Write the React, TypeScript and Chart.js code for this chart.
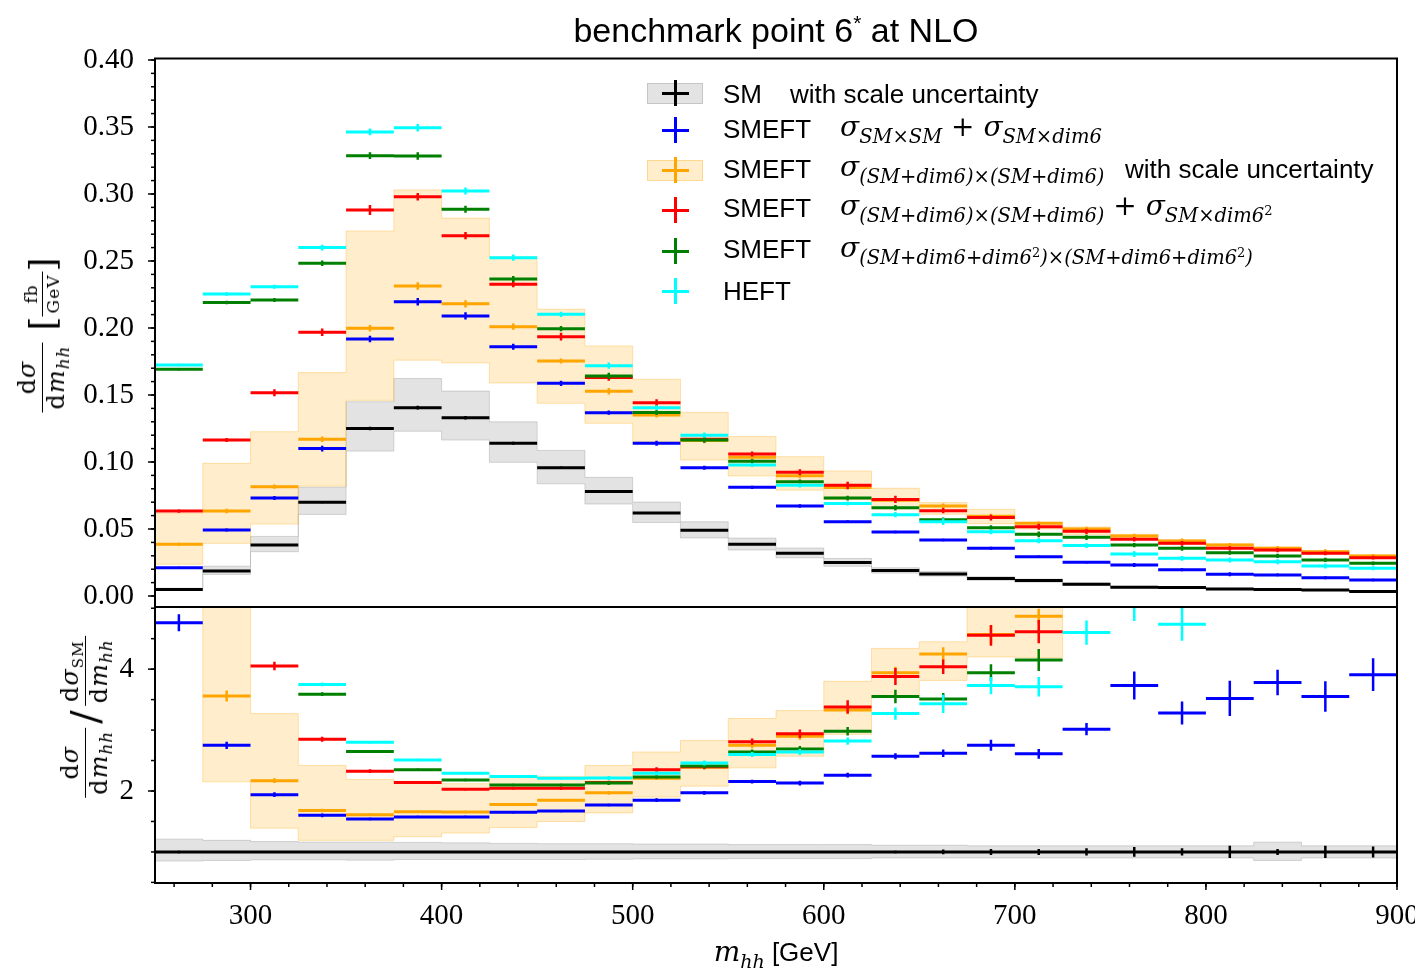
import React, { useEffect, useRef } from 'react';
import { Chart, registerables } from 'chart.js';
Chart.register(...registerables);

// ---------- bins ----------
const binEdges = [250, 275, 300, 325, 350, 375, 400, 425, 450, 475, 500, 525, 550, 575, 600, 625, 650, 675, 700, 725, 750, 775, 800, 825, 850, 875, 900];

// ---------- upper panel: dσ/dm_hh [fb/GeV] ----------
const smTop = [0.0048, 0.0187, 0.038, 0.070, 0.125, 0.1405, 0.133, 0.114, 0.0957, 0.078, 0.062, 0.049, 0.0386, 0.032, 0.025, 0.019, 0.0165, 0.013, 0.0115, 0.0088, 0.0066, 0.0063, 0.0052, 0.0048, 0.0045, 0.0034];
const blueTop = [0.0211, 0.0493, 0.0731, 0.110, 0.1918, 0.2196, 0.209, 0.186, 0.1587, 0.1368, 0.114, 0.0957, 0.0811, 0.0672, 0.0555, 0.0478, 0.0418, 0.0356, 0.0293, 0.0251, 0.0231, 0.0196, 0.0162, 0.0157, 0.0137, 0.0119];
const orangeTop = [0.0386, 0.0634, 0.0816, 0.117, 0.1998, 0.2313, 0.218, 0.201, 0.1754, 0.1528, 0.135, 0.116, 0.1035, 0.0898, 0.081, 0.0715, 0.0672, 0.0595, 0.0543, 0.050, 0.0448, 0.041, 0.038, 0.0356, 0.0331, 0.0299];
const orangeTopLo = [0.0237, 0.0393, 0.0537, 0.082, 0.146, 0.176, 0.174, 0.159, 0.1438, 0.1289, 0.115, 0.1015, 0.0896, 0.079, 0.072, 0.065, 0.061, 0.054, 0.050, 0.046, 0.042, 0.0385, 0.0357, 0.0335, 0.0312, 0.0282];
const orangeTopHi = [0.0617, 0.099, 0.1226, 0.1667, 0.2724, 0.303, 0.282, 0.253, 0.214, 0.1866, 0.1617, 0.137, 0.119, 0.104, 0.0933, 0.0804, 0.0697, 0.0647, 0.055, 0.0515, 0.046, 0.042, 0.039, 0.0365, 0.034, 0.0307];
const redTop = [0.0634, 0.1164, 0.1517, 0.1968, 0.288, 0.298, 0.2689, 0.2326, 0.1935, 0.163, 0.1443, 0.117, 0.106, 0.0923, 0.0826, 0.0721, 0.0637, 0.0585, 0.0517, 0.0483, 0.0423, 0.0393, 0.0356, 0.0343, 0.0319, 0.0286];
const greenTop = [0.1692, 0.2191, 0.2209, 0.2483, 0.3286, 0.3284, 0.2886, 0.2366, 0.1995, 0.1642, 0.137, 0.1164, 0.1005, 0.0853, 0.0731, 0.0659, 0.057, 0.051, 0.046, 0.0438, 0.038, 0.0356, 0.0323, 0.0299, 0.0269, 0.0244];
const cyanTop = [0.1724, 0.2254, 0.2308, 0.260, 0.3463, 0.3495, 0.3022, 0.2525, 0.2102, 0.1719, 0.1405, 0.120, 0.0978, 0.0826, 0.069, 0.0607, 0.0555, 0.048, 0.0413, 0.0376, 0.0313, 0.0281, 0.0269, 0.0256, 0.0224, 0.0207];

// ---------- lower panel: ratio to SM ----------
const smRatioLo = [0.85, 0.86, 0.87, 0.87, 0.865, 0.875, 0.875, 0.875, 0.875, 0.88, 0.885, 0.885, 0.89, 0.89, 0.89, 0.9, 0.9, 0.9, 0.9, 0.9, 0.9, 0.9, 0.9, 0.86, 0.9, 0.9];
const smRatioHi = [1.21, 1.19, 1.17, 1.16, 1.16, 1.155, 1.15, 1.14, 1.135, 1.135, 1.13, 1.13, 1.12, 1.12, 1.12, 1.11, 1.11, 1.1, 1.1, 1.1, 1.1, 1.1, 1.1, 1.16, 1.1, 1.1];
const smRatio = [1, 1, 1, 1, 1, 1, 1, 1, 1, 1, 1, 1, 1, 1, 1, 1, 1, 1, 1, 1, 1, 1, 1, 1, 1, 1];
const blueRatio = [4.76, 2.75, 1.94, 1.60, 1.54, 1.575, 1.575, 1.65, 1.67, 1.77, 1.85, 1.97, 2.155, 2.13, 2.26, 2.57, 2.62, 2.75, 2.61, 3.015, 3.73, 3.28, 3.52, 3.78, 3.55, 3.91];
const orangeRatio = [8.0, 3.56, 2.17, 1.68, 1.61, 1.66, 1.655, 1.78, 1.85, 1.97, 2.21, 2.39, 2.75, 2.90, 3.33, 3.94, 4.25, 4.57, 4.87, 5.6, 6.8, 6.5, 7.3, 7.4, 7.4, 8.8];
const orangeRatioLo = [5.3, 2.15, 1.39, 1.19, 1.19, 1.25, 1.31, 1.40, 1.50, 1.64, 1.90, 2.08, 2.38, 2.57, 2.93, 3.56, 3.815, 4.20, 4.19, 5.3, 5.8, 5.9, 6.2, 6.4, 6.5, 7.0];
const orangeRatioHi = [13, 6.0, 3.27, 2.42, 2.19, 2.16, 2.12, 2.22, 2.24, 2.42, 2.64, 2.83, 3.19, 3.32, 3.80, 4.34, 4.45, 5.4, 5.5, 6.0, 6.5, 6.6, 6.9, 7.1, 7.2, 7.8];
const redRatio = [13.2, 6.2, 4.05, 2.85, 2.325, 2.14, 2.03, 2.045, 2.045, 2.14, 2.35, 2.40, 2.81, 2.94, 3.38, 3.88, 4.04, 4.555, 4.615, 5.6, 6.4, 6.2, 6.8, 7.1, 7.1, 8.4];
const greenRatio = [35, 11.7, 5.8, 3.59, 2.65, 2.35, 2.18, 2.10, 2.10, 2.13, 2.23, 2.41, 2.64, 2.69, 2.98, 3.55, 3.51, 3.94, 4.15, 5.5, 5.8, 5.7, 6.2, 6.3, 6.0, 7.2];
const cyanRatio = [36, 12.0, 6.1, 3.75, 2.80, 2.51, 2.29, 2.24, 2.21, 2.215, 2.29, 2.46, 2.60, 2.64, 2.82, 3.27, 3.43, 3.73, 3.71, 4.60, 5.12, 4.735, 5.6, 5.8, 5.6, 6.4];

// statistical errors (ratio units)
const smErrR = [0.02, 0.01, 0.01, 0.01, 0.01, 0.01, 0.01, 0.01, 0.01, 0.01, 0.01, 0.01, 0.01, 0.01, 0.01, 0.02, 0.04, 0.05, 0.05, 0.06, 0.08, 0.06, 0.1, 0.05, 0.1, 0.09];
const blueErrR = [0.14, 0.06, 0.04, 0.03, 0.02, 0.02, 0.02, 0.02, 0.02, 0.02, 0.03, 0.03, 0.03, 0.04, 0.04, 0.05, 0.06, 0.09, 0.08, 0.10, 0.23, 0.19, 0.29, 0.21, 0.25, 0.27];
const orangeErrR = [0.25, 0.09, 0.04, 0.03, 0.02, 0.02, 0.02, 0.02, 0.02, 0.03, 0.03, 0.04, 0.05, 0.06, 0.07, 0.10, 0.11, 0.15, 0.12, 0.2, 0.25, 0.3, 0.3, 0.35, 0.4, 0.4];
const redErrR = [0.25, 0.08, 0.07, 0.04, 0.03, 0.02, 0.02, 0.02, 0.03, 0.03, 0.04, 0.04, 0.05, 0.07, 0.11, 0.14, 0.12, 0.17, 0.19, 0.22, 0.25, 0.28, 0.3, 0.33, 0.35, 0.4];
const greenErrR = [0.2, 0.07, 0.04, 0.03, 0.02, 0.02, 0.02, 0.02, 0.02, 0.03, 0.03, 0.04, 0.04, 0.05, 0.07, 0.11, 0.10, 0.14, 0.18, 0.22, 0.25, 0.28, 0.3, 0.33, 0.35, 0.4];
const cyanErrR = [0.2, 0.07, 0.04, 0.03, 0.02, 0.02, 0.02, 0.02, 0.02, 0.03, 0.03, 0.04, 0.04, 0.05, 0.06, 0.10, 0.15, 0.14, 0.16, 0.20, 0.33, 0.27, 0.35, 0.4, 0.4, 0.45];

// ---------- ticks ----------
const topYTicks = [0, 0.05, 0.10, 0.15, 0.20, 0.25, 0.30, 0.35, 0.40];
const topYMinorStep = 0.01;
const ratioYTicks = [2, 4];
const ratioYMinorStep = 0.5;
const xTicks = [300, 400, 500, 600, 700, 800, 900];
const xMinorStep = 20;

const BLUE = '#0000ff', ORANGE = '#ffa500', RED = '#ff0000', GREEN = '#008000', CYAN = '#00ffff', BLACK = '#000000';
const GREY_FILL = 'rgba(128,128,128,0.22)', GREY_EDGE = 'rgba(128,128,128,0.3)';
const OR_FILL = 'rgba(255,165,0,0.2)', OR_EDGE = 'rgba(255,165,0,0.3)';

type Pt = { x: number; y: number | null };

function segPoints(vals: number[]): Pt[] {
  const pts: Pt[] = [];
  vals.forEach((v, i) => {
    pts.push({ x: binEdges[i], y: v }, { x: binEdges[i + 1], y: v }, { x: binEdges[i + 1], y: null });
  });
  return pts;
}
function errPoints(vals: number[], errs: number[]): Pt[] {
  const pts: Pt[] = [];
  vals.forEach((v, i) => {
    const c = (binEdges[i] + binEdges[i + 1]) / 2;
    pts.push({ x: c, y: v - errs[i] }, { x: c, y: v + errs[i] }, { x: c, y: null });
  });
  return pts;
}
function stepPoints(vals: number[]): Pt[] {
  const pts: Pt[] = vals.map((v, i) => ({ x: binEdges[i], y: v }));
  pts.push({ x: binEdges[vals.length], y: vals[vals.length - 1] });
  return pts;
}
function series(vals: number[], errs: number[], color: string, order: number) {
  return [
    { type: 'line', data: segPoints(vals), borderColor: color, backgroundColor: color, borderWidth: 3, pointRadius: 0, fill: false, order, borderCapStyle: 'butt', spanGaps: false },
    { type: 'line', data: errPoints(vals, errs), borderColor: color, backgroundColor: color, borderWidth: 2.5, pointRadius: 0, fill: false, order, borderCapStyle: 'butt', spanGaps: false },
  ];
}
function band(lo: number[], hi: number[], fill: string, edge: string, order: number) {
  return [
    { type: 'line', data: stepPoints(lo), stepped: true, borderColor: edge, borderWidth: 1, pointRadius: 0, fill: false, order },
    { type: 'line', data: stepPoints(hi), stepped: true, borderColor: edge, backgroundColor: fill, borderWidth: 1, pointRadius: 0, fill: '-1', order },
  ];
}
function minorTicks(min: number, max: number, step: number) {
  const out: number[] = [];
  const n0 = Math.ceil(min / step - 1e-9), n1 = Math.floor(max / step + 1e-9);
  for (let k = n0; k <= n1; k++) out.push(+(k * step).toFixed(6));
  return out;
}

const framePlugin = {
  id: 'frame',
  afterDraw(chart: any, _args: any, opts: any) {
    const { ctx, chartArea: a, scales } = chart;
    ctx.save();
    ctx.strokeStyle = '#000';
    ctx.lineWidth = 1.5;
    const ys = scales.y;
    const drawY = (vals: number[], len: number) => {
      vals.forEach((v) => {
        const p = ys.getPixelForValue(v);
        if (p < a.top - 0.5 || p > a.bottom + 0.5) return;
        ctx.beginPath(); ctx.moveTo(a.left, p); ctx.lineTo(a.left - len, p); ctx.stroke();
      });
    };
    drawY(opts.yMinor, 4);
    drawY(opts.yMajor, 7);
    if (opts.xMajor) {
      const xs = scales.x;
      const drawX = (vals: number[], len: number) => {
        vals.forEach((v) => {
          const p = xs.getPixelForValue(v);
          if (p < a.left - 0.5 || p > a.right + 0.5) return;
          ctx.beginPath(); ctx.moveTo(p, a.bottom); ctx.lineTo(p, a.bottom + len); ctx.stroke();
        });
      };
      drawX(opts.xMinor, 4);
      drawX(opts.xMajor, 7);
    }
    ctx.lineWidth = 2;
    ctx.strokeRect(a.left, a.top, a.right - a.left, a.bottom - a.top);
    ctx.restore();
  },
};

const tickFont = { family: '"Liberation Serif", "Times New Roman", serif', size: 29 };

function topConfig(): any {
  const errTop = (errR: number[]) => errR.map((e, i) => e * smTop[i]);
  const yMin = -0.0082, yMax = 0.4011;
  return {
    type: 'line',
    data: {
      datasets: [
        ...band(smTop.map((v, i) => v * smRatioLo[i]), smTop.map((v, i) => v * smRatioHi[i]), GREY_FILL, GREY_EDGE, 200),
        ...band(orangeTopLo, orangeTopHi, OR_FILL, OR_EDGE, 190),
        ...series(smTop, errTop(smErrR), BLACK, 100),
        ...series(blueTop, errTop(blueErrR), BLUE, 90),
        ...series(orangeTop, errTop(orangeErrR), ORANGE, 80),
        ...series(redTop, errTop(redErrR), RED, 70),
        ...series(greenTop, errTop(greenErrR), GREEN, 60),
        ...series(cyanTop, errTop(cyanErrR), CYAN, 50),
      ],
    },
    options: {
      responsive: false,
      animation: false,
      events: [],
      layout: { padding: { left: 0, right: 18, top: 58.5, bottom: 0 } },
      plugins: {
        legend: { display: false },
        tooltip: { enabled: false },
        frame: { yMajor: topYTicks, yMinor: minorTicks(yMin, yMax, topYMinorStep) },
      },
      scales: {
        x: { type: 'linear', min: 250, max: 900, display: false },
        y: {
          type: 'linear', min: yMin, max: yMax,
          grid: { display: false, drawTicks: false },
          border: { display: false },
          ticks: { font: tickFont, color: '#000', padding: 21, autoSkip: false, callback: (v: any) => Number(v).toFixed(2) },
          afterBuildTicks: (s: any) => { s.ticks = topYTicks.map((v) => ({ value: v })); },
          afterFit: (s: any) => { s.width = 155; s.paddingTop = 0; s.paddingBottom = 0; },
        },
      },
    },
    plugins: [framePlugin],
  };
}

function bottomConfig(): any {
  const yMin = 0.49, yMax = 5.02;
  return {
    type: 'line',
    data: {
      datasets: [
        ...band(smRatioLo, smRatioHi, GREY_FILL, GREY_EDGE, 200),
        ...band(orangeRatioLo, orangeRatioHi, OR_FILL, OR_EDGE, 190),
        ...series(smRatio, smErrR, BLACK, 100),
        ...series(blueRatio, blueErrR, BLUE, 90),
        ...series(orangeRatio, orangeErrR, ORANGE, 80),
        ...series(redRatio, redErrR, RED, 70),
        ...series(greenRatio, greenErrR, GREEN, 60),
        ...series(cyanRatio, cyanErrR, CYAN, 50),
      ],
    },
    options: {
      responsive: false,
      animation: false,
      events: [],
      layout: { padding: { left: 0, right: 18, top: 0, bottom: 0 } },
      plugins: {
        legend: { display: false },
        tooltip: { enabled: false },
        frame: {
          yMajor: ratioYTicks, yMinor: minorTicks(yMin, yMax, ratioYMinorStep),
          xMajor: xTicks, xMinor: minorTicks(250, 900, xMinorStep),
        },
      },
      scales: {
        x: {
          type: 'linear', min: 250, max: 900,
          grid: { display: false, drawTicks: false },
          border: { display: false },
          ticks: { font: tickFont, color: '#000', padding: 16, autoSkip: false, maxRotation: 0, callback: (v: any) => String(v) },
          afterBuildTicks: (s: any) => { s.ticks = xTicks.map((v) => ({ value: v })); },
          afterFit: (s: any) => { s.height = 91; s.paddingLeft = 0; s.paddingRight = 0; },
        },
        y: {
          type: 'linear', min: yMin, max: yMax,
          grid: { display: false, drawTicks: false },
          border: { display: false },
          ticks: { font: tickFont, color: '#000', padding: 21, autoSkip: false, callback: (v: any) => String(v) },
          afterBuildTicks: (s: any) => { s.ticks = ratioYTicks.map((v) => ({ value: v })); },
          afterFit: (s: any) => { s.width = 155; s.paddingTop = 0; s.paddingBottom = 0; },
        },
      },
    },
    plugins: [framePlugin],
  };
}

// ---------- text helpers ----------
const SANS = '"Liberation Sans", Arial, sans-serif';
const SERIF = '"DejaVu Serif", serif';

const It = ({ children, size }: any) => (
  <span style={{ fontFamily: SERIF, fontStyle: 'italic', fontSize: size }}>{children}</span>
);
const Sub = ({ children, size = 19.5, shift = 7 }: any) => (
  <span style={{ fontFamily: SERIF, fontStyle: 'italic', fontSize: size, position: 'relative', top: shift }}>{children}</span>
);
const Sup2 = () => <span style={{ fontSize: 13, position: 'relative', top: -7, fontStyle: 'normal' }}>2</span>;
const Sig = ({ sub }: any) => (
  <span><It size={28}>σ</It><Sub>{sub}</Sub></span>
);
const Plus = () => <span style={{ fontFamily: SERIF, fontSize: 28 }}>{' + '}</span>;

function Cross({ cy, color, box, edge }: any) {
  const cx = 675;
  return (
    <>
      {box && (
        <div style={{ position: 'absolute', left: 647, top: cy - 10.5, width: 56, height: 21, background: box, border: `1px solid ${edge}`, boxSizing: 'border-box' }} />
      )}
      <div style={{ position: 'absolute', left: cx - 13.5, top: cy - 1.5, width: 27, height: 3, background: color }} />
      <div style={{ position: 'absolute', left: cx - 1.5, top: cy - 13, width: 3, height: 26, background: color }} />
    </>
  );
}

function Row({ cy, left, children }: any) {
  return (
    <div style={{ position: 'absolute', left, top: cy - 16, height: 32, lineHeight: '32px', whiteSpace: 'nowrap', fontFamily: SANS, fontSize: 26, color: '#000' }}>
      {children}
    </div>
  );
}

function Frac({ num, den, size = 24 }: any) {
  return (
    <span style={{ display: 'inline-flex', flexDirection: 'column', alignItems: 'center', fontFamily: SERIF, fontSize: size, lineHeight: 0.98, verticalAlign: 'middle', letterSpacing: 1 }}>
      <span style={{ padding: '0 3px 2px 3px' }}>{num}</span>
      <span style={{ alignSelf: 'stretch', borderTop: '1.5px solid #000' }} />
      <span style={{ padding: '2px 3px 0 3px' }}>{den}</span>
    </span>
  );
}
const DSig = ({ sub }: any) => (
  <span>d<i>σ</i>{sub && <span style={{ fontSize: 15, position: 'relative', top: 5 }}>{sub}</span>}</span>
);
const DMhh = () => (
  <span>d<i>m</i><i style={{ fontSize: 17, position: 'relative', top: 5 }}>hh</i></span>
);

function RotLabel({ cx, cy, children }: any) {
  return (
    <div style={{ position: 'absolute', left: cx, top: cy, transform: 'translate(-50%, -50%) rotate(-90deg)', whiteSpace: 'nowrap', display: 'flex', alignItems: 'center', color: '#000' }}>
      {children}
    </div>
  );
}

export default function App() {
  const topRef = useRef<HTMLCanvasElement | null>(null);
  const botRef = useRef<HTMLCanvasElement | null>(null);
  useEffect(() => {
    const c1 = new Chart(topRef.current as HTMLCanvasElement, topConfig());
    const c2 = new Chart(botRef.current as HTMLCanvasElement, bottomConfig());
    return () => { c1.destroy(); c2.destroy(); };
  }, []);

  return (
    <div style={{ position: 'absolute', left: 0, top: 0, width: 1415, height: 974, background: '#fff', overflow: 'hidden' }}>
      <canvas ref={topRef} width={1415} height={607} style={{ position: 'absolute', left: 0, top: 0, width: 1415, height: 607 }} />
      <canvas ref={botRef} width={1415} height={367} style={{ position: 'absolute', left: 0, top: 607, width: 1415, height: 367 }} />

      {/* title */}
      <div style={{ position: 'absolute', left: 426, width: 700, top: 10, lineHeight: '40px', textAlign: 'center', fontFamily: SANS, fontSize: 34, color: '#000', whiteSpace: 'nowrap' }}>
        benchmark point 6<span style={{ fontSize: 21, position: 'relative', top: -12 }}>*</span> at NLO
      </div>

      {/* legend */}
      <Cross cy={93} color={BLACK} box={GREY_FILL} edge={GREY_EDGE} />
      <Row cy={94} left={723}>SM</Row>
      <Row cy={94} left={790}>with scale uncertainty</Row>

      <Cross cy={130} color={BLUE} />
      <Row cy={129} left={723}>SMEFT</Row>
      <Row cy={127} left={840}><Sig sub="SM×SM" /><Plus /><Sig sub="SM×dim6" /></Row>

      <Cross cy={170} color={ORANGE} box={OR_FILL} edge={OR_EDGE} />
      <Row cy={169} left={723}>SMEFT</Row>
      <Row cy={167} left={840}><Sig sub="(SM+dim6)×(SM+dim6)" /></Row>
      <Row cy={169} left={1125}>with scale uncertainty</Row>

      <Cross cy={210} color={RED} />
      <Row cy={208} left={723}>SMEFT</Row>
      <Row cy={206} left={840}><Sig sub="(SM+dim6)×(SM+dim6)" /><Plus /><Sig sub={<>SM×dim6<Sup2 /></>} /></Row>

      <Cross cy={251} color={GREEN} />
      <Row cy={249} left={723}>SMEFT</Row>
      <Row cy={248} left={840}><Sig sub={<>(SM+dim6+dim6<Sup2 />)×(SM+dim6+dim6<Sup2 />)</>} /></Row>

      <Cross cy={291} color={CYAN} />
      <Row cy={291} left={723}>HEFT</Row>

      {/* y labels */}
      <RotLabel cx={42} cy={335}>
        <Frac num={<DSig />} den={<DMhh />} size={24} />
        <span style={{ fontFamily: SERIF, fontSize: 36, marginLeft: 12 }}>[</span>
        <Frac num="fb" den="GeV" size={17} />
        <span style={{ fontFamily: SERIF, fontSize: 36 }}>]</span>
      </RotLabel>
      <RotLabel cx={85} cy={717}>
        <Frac num={<DSig />} den={<DMhh />} size={24} />
        <span style={{ fontFamily: SERIF, fontSize: 40, margin: '0 4px' }}>/</span>
        <Frac num={<DSig sub="SM" />} den={<DMhh />} size={24} />
      </RotLabel>

      {/* x label */}
      <div style={{ position: 'absolute', left: 476, width: 600, top: 932, lineHeight: '40px', textAlign: 'center', whiteSpace: 'nowrap', color: '#000' }}>
        <It size={28}>m</It><Sub size={19} shift={7}>hh</Sub>
        <span style={{ fontFamily: SANS, fontSize: 26 }}>{' [GeV]'}</span>
      </div>
    </div>
  );
}
